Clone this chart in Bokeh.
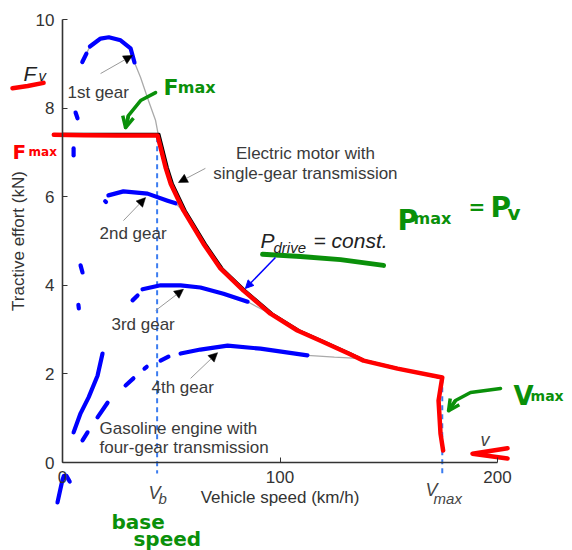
from bokeh.plotting import figure
from bokeh.models import ColumnDataSource, Arrow, NormalHead, OpenHead, FixedTicker
from bokeh.core.properties import value
from bokeh.embed import file_html
from bokeh.resources import INLINE

# ---------------- data ----------------
x_ticks = [0, 100, 200]
y_ticks = [0, 2, 4, 6, 8, 10]
v_base = 43.5
v_max = 174.6

# printed electric-motor curve (black)
motor_speed = [0, 44.5, 48.4, 50.7, 56.6, 65.8, 73.6, 84.2, 96.6, 109.0, 119.6, 132.5, 139.4, 155.0, 174.8]
motor_force = [7.42, 7.42, 6.66, 6.30, 5.69, 4.94, 4.38, 3.88, 3.36, 2.98, 2.75, 2.46, 2.30, 2.12, 1.90]

# hand-drawn red trace of the motor curve
red_speed = [-4.0, 10, 25, 43.7, 47.4, 49.7, 55.6, 64.8, 72.6, 83.2, 95.6, 108.0, 118.6, 131.5,
             138.4, 154.0, 174.6, 172.9, 173.8, 175.0]
red_force = [7.40, 7.39, 7.38, 7.38, 6.66, 6.30, 5.69, 4.94, 4.38, 3.88, 3.36, 2.98, 2.75, 2.46,
             2.30, 2.12, 1.92, 1.40, 0.65, 0.27]

# printed gasoline-engine gear curves (gray)
gear1_speed = [9.1, 11.0, 12.6, 17.5, 21.3, 26.7, 31.3, 33.1, 35.9, 39.5, 42.8, 44.1]
gear1_force = [9.04, 9.23, 9.39, 9.57, 9.60, 9.53, 9.35, 9.03, 8.69, 8.17, 7.72, 7.38]
gear2_speed = [21.1, 28.0, 39.1, 48.3, 52.0, 55.0, 57.5]
gear2_force = [6.03, 6.12, 6.07, 5.91, 5.85, 5.70, 5.51]
gear3_speed = [36.8, 45.1, 54.3, 63.4, 74.0, 85.1, 90.0, 95.6]
gear3_force = [3.91, 4.00, 4.00, 3.95, 3.81, 3.63, 3.50, 3.36]
gear4_speed = [54.3, 63.4, 75.9, 91.0, 112.6, 125.0, 135.6]
gear4_force = [2.46, 2.55, 2.64, 2.57, 2.42, 2.38, 2.35]

# hand-drawn blue strokes over the gear curves
blue_speed = [
    [9.1, 11.0],
    [12.6, 17.5, 21.3, 26.7, 31.3, 33.1],
    [21.1, 28.0, 39.1, 48.3, 52.0],
    [36.8, 45.1, 54.3, 63.4, 74.0, 85.1],
    [54.3, 63.4, 75.9, 91.0, 112.6],
    [6.0, 6.9], [5.1, 5.1], [8.3, 9.2], [7.3, 7.5], [19.6, 20.0],
    [32.2, 34.5], [45.1, 48.7], [37.7, 38.7], [29.0, 32.6], [16.1, 20.7], [9.2, 11.5],
    [5.1, 8.3, 12.0, 16.1, 18.4],
    [-2.3, -0.3, 0.6, 1.8, 3.3],
]
blue_force = [
    [9.04, 9.23],
    [9.39, 9.57, 9.60, 9.53, 9.35, 9.03],
    [6.03, 6.12, 6.07, 5.91, 5.85],
    [3.91, 4.00, 4.00, 3.95, 3.81, 3.63],
    [2.46, 2.55, 2.64, 2.57, 2.42],
    [7.90, 7.77], [7.09, 6.93], [4.45, 4.29], [3.56, 3.48], [5.90, 5.88],
    [3.66, 3.77], [2.30, 2.39], [2.12, 2.16], [1.74, 1.90], [1.02, 1.35], [0.50, 0.68],
    [0.68, 1.11, 1.47, 1.96, 2.46],
    [-0.90, -0.45, -0.30, -0.30, -0.43],
]

# dashed reference lines (base speed, max speed)
ref_speed = [[v_base, v_base], [v_max, v_max]]
ref_force = [[7.34, -0.25], [1.90, -0.25]]

# leader arrows of the printed figure
lead_x0 = [17.5, 65.7, 28.0, 42.8, 58.9]
lead_y0 = [8.78, 6.64, 5.46, 3.43, 1.90]
lead_x1 = [32.2, 53.3, 38.2, 55.6, 71.3]
lead_y1 = [9.19, 6.32, 5.98, 3.91, 2.48]

# blue P_drive arrow
pd_arrow = [97.9, 4.63, 84.1, 3.93]

# red hand strokes (F_v underline, arrow at v)
red_mark_x = [[-23.0, -16.0, -8.7], [204.6, 188.5, 204.6]]
red_mark_y = [[8.45, 8.50, 8.57], [0.32, 0.20, 0.09]]

# green hand strokes
green_line_x = [[92.0, 109.4, 127.8, 147.6]]
green_line_y = [[4.70, 4.65, 4.58, 4.45]]
green_arrow1_x = [42.8, 35.9, 30.3, 29.0]
green_arrow1_y = [8.35, 8.17, 7.83, 7.56]
green_arrow2_x = [201.4, 187.6, 180.7, 177.5]
green_arrow2_y = [1.67, 1.58, 1.40, 1.17]

# ---------------- figure ----------------
p = figure(width=572, height=550, x_range=(-28.51, 234.48), y_range=(-1.986, 10.429),
           output_backend="svg", toolbar_location=None, min_border=0,
           outline_line_color=None, background_fill_color="white")
p.grid.visible = False

for ax in (p.xaxis[0], p.yaxis[0]):
    ax.fixed_location = 0
    ax.axis_line_color = "#333333"
    ax.axis_line_width = 1.6
    ax.major_tick_in = 5
    ax.major_tick_out = 0
    ax.major_tick_line_color = "#333333"
    ax.minor_tick_line_color = None
    ax.major_label_text_font = "Liberation Sans"
    ax.major_label_text_font_size = "17px"
    ax.major_label_text_color = "#333333"
    ax.axis_label_text_font = "Liberation Sans"
    ax.axis_label_text_font_size = "17px"
    ax.axis_label_text_font_style = "normal"
    ax.axis_label_text_color = "#333333"

p.xaxis.ticker = FixedTicker(ticks=x_ticks)
p.xaxis.bounds = (0, 200)
p.xaxis.major_label_standoff = 8
p.xaxis.axis_label = "Vehicle speed (km/h)"
p.xaxis.axis_label_standoff = 2
p.yaxis.ticker = FixedTicker(ticks=y_ticks)
p.yaxis.bounds = (0, 10)
p.yaxis.major_label_standoff = 8
p.yaxis.axis_label = "Tractive effort (kN)"
p.yaxis.axis_label_standoff = 5

# gray printed gear curves
for xs, ys in ((gear1_speed, gear1_force), (gear2_speed, gear2_force),
               (gear3_speed, gear3_force), (gear4_speed, gear4_force)):
    p.line(xs, ys, line_color="#aaaaaa", line_width=1.3)

# printed motor curve
p.line(motor_speed, motor_force, line_color="black", line_width=2.2)

# dashed reference lines
p.multi_line(ref_speed, ref_force, line_color="#3b7cf0", line_width=2, line_dash="5 4")

# leader arrows
lead_src = ColumnDataSource(dict(x0=lead_x0, y0=lead_y0, x1=lead_x1, y1=lead_y1))
p.add_layout(Arrow(end=NormalHead(size=9, fill_color="black", line_color="black", line_width=0.5),
                   x_start="x0", y_start="y0", x_end="x1", y_end="y1", source=lead_src,
                   line_color="#999999", line_width=1))

# blue hand strokes
p.multi_line(blue_speed, blue_force, line_color="#0000ff", line_width=4.2, line_cap="round", line_join="round")
p.add_layout(Arrow(end=NormalHead(size=8, fill_color="#0000ff", line_color="#0000ff"),
                   x_start=pd_arrow[0], y_start=pd_arrow[1], x_end=pd_arrow[2], y_end=pd_arrow[3],
                   line_color="#0000ff", line_width=1.5))

# red hand trace
p.line(red_speed, red_force, line_color="#ff0000", line_width=4.5, line_cap="round", line_join="round")
p.multi_line(red_mark_x, red_mark_y, line_color="#ff0000", line_width=4.5, line_cap="round", line_join="round")

# green hand strokes
GREEN = "#0a900a"
p.multi_line(green_line_x, green_line_y, line_color=GREEN, line_width=5, line_cap="round")
for ax_, ay_ in ((green_arrow1_x, green_arrow1_y), (green_arrow2_x, green_arrow2_y)):
    p.line(ax_, ay_, line_color=GREEN, line_width=3.5, line_cap="round", line_join="round")
    p.add_layout(Arrow(end=OpenHead(size=11, line_color=GREEN, line_width=3.5),
                       x_start=ax_[-2], y_start=ay_[-2], x_end=ax_[-1], y_end=ay_[-1],
                       line_color=GREEN, line_width=3.5))


def add_text(texts, xs, ys, size, color, style="normal", align="left",
             baseline="alphabetic", font="Liberation Sans"):
    src = ColumnDataSource(dict(x=xs, y=ys, t=texts))
    p.text("x", "y", text="t", source=src, text_font=value(font), text_font_size=size,
           text_color=color, text_font_style=style, text_align=align, text_baseline=baseline)


GRAY = "#3a3a3a"
# printed labels
add_text(["1st gear", "2nd gear", "3rd gear", "4th gear", "Gasoline engine with", "four-gear transmission"],
         [2.3, 17.0, 22.5, 40.9, 17.0, 17.0], [8.35, 5.17, 3.12, 1.69, 0.77, 0.34],
         "17px", GRAY, baseline="middle")
add_text(["Electric motor with", "single-gear transmission"], [111.7, 111.7], [6.98, 6.52],
         "17px", GRAY, align="center", baseline="middle")
# italic math-like labels
add_text(["P", "= const.", "F"], [91.0, 115.4, -17.9], [5.01, 5.01, 8.78], "21px", "#222222", style="italic")
add_text(["drive", "v"], [97.0, -11.0], [4.85, 8.74], "15px", "#222222", style="italic")
add_text(["V", "V", "v"], [39.5, 166.9, 192.2], [-0.68, -0.63, 0.50], "18px", "#444444", style="italic")
add_text(["b", "max"], [44.1, 170.6], [-0.81, -0.81], "15px", "#444444", style="italic")

# handwritten notes
HF = "DejaVu Sans"
add_text(["F"], [46.4], [8.47], "22px", GREEN, style="bold", font=HF)
add_text(["max"], [53.0], [8.47], "16px", GREEN, style="bold", font=HF)
add_text(["P", "P"], [154.0, 196.8], [5.46, 5.76], "28px", GREEN, style="bold", font=HF)
add_text(["max"], [161.4], [5.51], "16px", GREEN, style="bold", font=HF)
add_text(["=", "v"], [186.7, 204.6], [5.76, 5.64], "20px", GREEN, style="bold", font=HF)
add_text(["V"], [207.4], [1.51], "26px", GREEN, style="bold", font=HF)
add_text(["max"], [215.2], [1.51], "14px", GREEN, style="bold", font=HF)
add_text(["base", "speed"], [22.5, 32.6], [-1.35, -1.72], "20px", GREEN, style="bold", font=HF)
add_text(["F"], [-23.0], [7.00], "20px", "#ff0000", style="bold", font=HF)
add_text(["max"], [-15.6], [7.00], "12px", "#ff0000", style="bold", font=HF)

open("out.html", "w").write(file_html(p, INLINE))
